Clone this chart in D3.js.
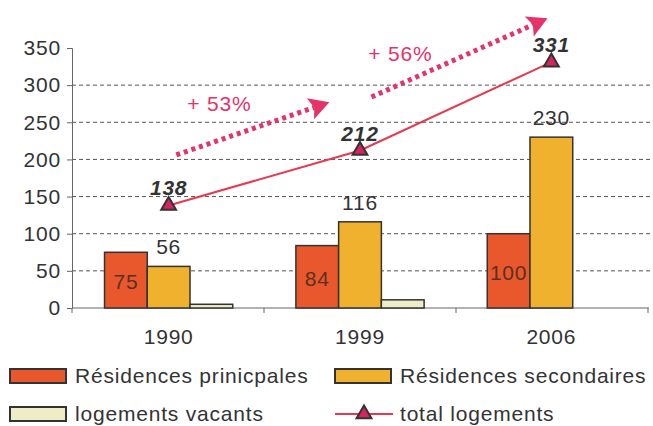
<!DOCTYPE html>
<html>
<head>
<meta charset="utf-8">
<script src="https://cdn.jsdelivr.net/npm/d3@7"></script>
<style>
  body { margin: 0; background: #fff; }
  svg text { font-family: "Liberation Sans", Arial, sans-serif; fill: #333; letter-spacing: 0.8px; }
</style>
</head>
<body>
<div id="chart-container"></div>
<script>
const years = ['1990', '1999', '2006'];
const principales = [75, 84, 100];
const secondaires = [56, 116, 230];
const vacants = [5, 11, 0];
const totals = [138, 212, 331];
const yTicks = [0, 50, 100, 150, 200, 250, 300, 350];

// growth arrows, in data units: [year index, value] start/end
const arrows = [
  {label: '+ 53%', from: [0.04, 206], to: [0.84, 277], dx: -24, dy: -21},
  {label: '+ 56%', from: [1.06, 284], to: [1.98, 390], dx: -50, dy: -1}
];

const width = 653,
  height = 426;
const fs = 21;

const svg = d3.select('#chart-container')
  .append('svg')
  .attr('width', width)
  .attr('height', height);

const x = d3.scaleBand()
  .domain(years)
  .range([72, 648])
  .paddingInner(0.33)
  .paddingOuter(0.17);

const yScale = d3.scaleLinear()
  .domain([0, 350])
  .range([308, 48]);

const sub = d3.scaleBand()
  .domain([0, 1, 2])
  .range([0, x.bandwidth()]);

// x position from fractional year index (0 = center of 1990)
const step = x.step();
const xc = i => x(years[0]) + x.bandwidth() / 2 + i * step;

// gridlines
svg.append('g')
  .selectAll('line')
  .data(yTicks.filter(d => d > 0 && d < 350))
  .join('line')
  .attr('x1', 72).attr('x2', 650)
  .attr('y1', d => yScale(d)).attr('y2', d => yScale(d))
  .attr('stroke', '#555')
  .attr('stroke-width', 1)
  .attr('stroke-dasharray', '4,3');

// y axis
const yAxis = svg.append('g')
  .attr('transform', 'translate(72,0)')
  .call(d3.axisLeft(yScale).tickValues(yTicks).tickSize(5).tickPadding(6));
yAxis.select('.domain').attr('stroke', '#666');
yAxis.selectAll('.tick line').attr('stroke', '#666');
yAxis.selectAll('.tick text').attr('font-size', fs).attr('fill', '#333')
  .attr('font-family', '"Liberation Sans", Arial, sans-serif');

// x axis line with category separators
svg.append('line')
  .attr('x1', 72).attr('x2', 649)
  .attr('y1', 308).attr('y2', 308)
  .attr('stroke', '#666');
svg.append('g')
  .selectAll('line')
  .data(d3.range(years.length + 1))
  .join('line')
  .attr('x1', i => 72 + i * (576 / 3)).attr('x2', i => 72 + i * (576 / 3))
  .attr('y1', 308).attr('y2', 313)
  .attr('stroke', '#666');
svg.append('g')
  .selectAll('text')
  .data(years)
  .join('text')
  .attr('x', d => x(d) + x.bandwidth() / 2)
  .attr('y', 344)
  .attr('text-anchor', 'middle')
  .attr('font-size', fs)
  .text(d => d);

// bars
const series = [
  {values: principales, color: '#e9582c'},
  {values: secondaires, color: '#f0b12e'},
  {values: vacants, color: '#eeedc8'}
];
series.forEach((s, si) => {
  svg.append('g')
    .selectAll('rect')
    .data(s.values)
    .join('rect')
    .filter(d => d > 0)
    .attr('x', (d, i) => x(years[i]) + sub(si))
    .attr('width', sub.bandwidth())
    .attr('y', d => yScale(d))
    .attr('height', d => 308 - yScale(d))
    .attr('fill', s.color)
    .attr('stroke', '#333')
    .attr('stroke-width', 1.5);
});

// labels inside red bars
svg.append('g')
  .selectAll('text')
  .data(principales)
  .join('text')
  .attr('x', (d, i) => x(years[i]) + sub(0) + sub.bandwidth() / 2)
  .attr('y', d => (yScale(d) + 308) / 2 + 9)
  .attr('text-anchor', 'middle')
  .attr('font-size', fs)
  .style('fill', '#5a3020')
  .text(d => d);

// labels above yellow bars
svg.append('g')
  .selectAll('text')
  .data(secondaires)
  .join('text')
  .attr('x', (d, i) => x(years[i]) + sub(1) + sub.bandwidth() / 2)
  .attr('y', d => yScale(d) - 12)
  .attr('text-anchor', 'middle')
  .attr('font-size', fs)
  .text(d => d);

// total line
const line = d3.line()
  .x((d, i) => xc(i))
  .y(d => yScale(d));
svg.append('path')
  .datum(totals)
  .attr('d', line)
  .attr('fill', 'none')
  .attr('stroke', '#e63a4e')
  .attr('stroke-width', 2);

const tri = d3.symbol().type(d3.symbolTriangle).size(95);
svg.append('g')
  .selectAll('path')
  .data(totals)
  .join('path')
  .attr('d', tri)
  .attr('transform', (d, i) => `translate(${xc(i)},${yScale(d)})`)
  .attr('fill', '#d42560')
  .attr('stroke', '#333')
  .attr('stroke-width', 2);

svg.append('g')
  .selectAll('text')
  .data(totals)
  .join('text')
  .attr('x', (d, i) => xc(i))
  .attr('y', d => yScale(d) - 10)
  .attr('text-anchor', 'middle')
  .attr('font-size', fs)
  .attr('font-weight', 'bold')
  .attr('font-style', 'italic')
  .text(d => d);

// growth arrows
const arrowColor = '#e5336a';
arrows.forEach(a => {
  const x1 = xc(a.from[0]), y1 = yScale(a.from[1]);
  const x2 = xc(a.to[0]), y2 = yScale(a.to[1]);
  const ang = Math.atan2(y2 - y1, x2 - x1);
  const headLen = 20;
  const bx = x2 - headLen * Math.cos(ang), by = y2 - headLen * Math.sin(ang);
  svg.append('line')
    .attr('x1', x1).attr('y1', y1)
    .attr('x2', bx + 4 * Math.cos(ang)).attr('y2', by + 4 * Math.sin(ang))
    .attr('stroke', arrowColor)
    .attr('stroke-width', 5)
    .attr('stroke-dasharray', '4,4');
  const px = -Math.sin(ang), py = Math.cos(ang);
  svg.append('path')
    .attr('d', `M${x2},${y2} L${bx + px * 11},${by + py * 11} L${bx + 4 * Math.cos(ang)},${by + 4 * Math.sin(ang)} L${bx - px * 11},${by - py * 11} Z`)
    .attr('fill', arrowColor);
  svg.append('text')
    .attr('x', (x1 + bx) / 2 + a.dx)
    .attr('y', (y1 + by) / 2 + a.dy)
    .attr('text-anchor', 'middle')
    .attr('font-size', fs)
    .style('fill', arrowColor)
    .text(a.label);
});

// legend
const legend = [
  {label: 'Résidences prinicpales', color: '#e9582c', x: 10, y: 376},
  {label: 'Résidences secondaires', color: '#f0b12e', x: 335, y: 376},
  {label: 'logements vacants', color: '#eeedc8', x: 10, y: 414}
];
const lg = svg.append('g');
legend.forEach(l => {
  lg.append('rect')
    .attr('x', l.x).attr('y', l.y - 7)
    .attr('width', 56).attr('height', 14)
    .attr('fill', l.color)
    .attr('stroke', '#333')
    .attr('stroke-width', 2);
  lg.append('text')
    .attr('x', l.x + 65).attr('y', l.y + 7)
    .attr('font-size', fs)
    .text(l.label);
});
lg.append('line')
  .attr('x1', 335).attr('x2', 393)
  .attr('y1', 414).attr('y2', 414)
  .attr('stroke', '#e63a4e')
  .attr('stroke-width', 2);
lg.append('path')
  .attr('d', tri)
  .attr('transform', 'translate(364,414)')
  .attr('fill', '#d42560')
  .attr('stroke', '#333')
  .attr('stroke-width', 2);
lg.append('text')
  .attr('x', 400).attr('y', 421)
  .attr('font-size', fs)
  .text('total logements');
</script>
</body>
</html>
